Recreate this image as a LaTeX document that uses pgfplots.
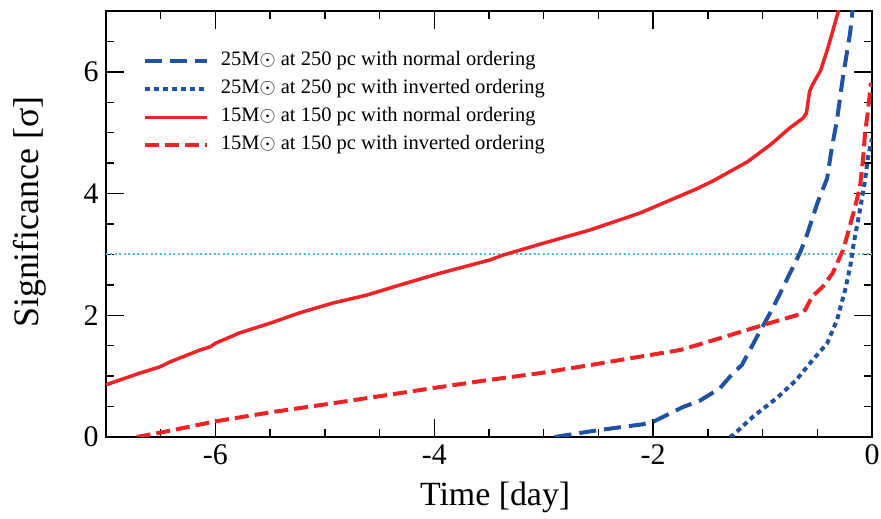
\documentclass[border=0pt]{standalone}
\usepackage{fontspec}
\setmainfont{Liberation Serif}
\newfontfamily\tickfont{Liberation Serif}
\usepackage{pgfplots}
\pgfplotsset{compat=1.18}
\definecolor{cblue}{RGB}{31,82,163}
\definecolor{cred}{RGB}{237,35,38}
\definecolor{ccyan}{RGB}{80,190,210}
\begin{document}
\begin{tikzpicture}
\begin{axis}[
  scale only axis, width=766bp, height=426bp,
  xmin=-7, xmax=0, ymin=0, ymax=7,
  xtick={-6,-4,-2,0}, ytick={0,2,4,6},
  xticklabels={{\tickfont -6},{\tickfont -4},{\tickfont -2},{\tickfont 0}},
  yticklabels={{\tickfont 0},{\tickfont 2},{\tickfont 4},{\tickfont 6}},
  minor xtick={-6.5,-5.5,-5,-4.5,-3.5,-3,-2.5,-1.5,-1,-0.5},
  minor ytick={0.5,1,1.5,2.5,3,3.5,4.5,5,5.5,6.5},
  tick align=inside, ticks=both,
  major tick length=18bp, minor tick length=8bp,
  every tick/.style={black, line width=1.3bp},
  axis line style={line width=2.5bp, black},
  tick label style={font=\tickfont\fontsize{30}{32}\selectfont},
  xticklabel style={yshift=-4bp},
  yticklabel style={xshift=-4bp},
  xlabel={Time [day]}, ylabel={Significance [σ]},
  xlabel style={font=\fontsize{34}{38}\selectfont, at={(axis description cs:0.508,-0.141)}, anchor=center},
  ylabel style={font=\fontsize{36}{40}\selectfont, at={(axis description cs:-0.099,0.528)}, anchor=center},
  legend style={draw=none, fill=none, at={(0.044,0.914)}, anchor=north west,
    font=\fontsize{20.6}{22}\selectfont, row sep=5bp, column sep=10bp,
    nodes={text height=14bp, text depth=5bp, inner sep=2bp}},
  legend cell align=left,
  legend image code/.code={\draw[#1] (0bp,0bp) -- (62bp,0bp);},
  clip=true,
]
\addplot[ccyan, line width=2bp, dash pattern=on 2bp off 2.5bp, forget plot] coordinates {(-7,3) (0,3)};
\addplot[cblue, line width=4bp, dash pattern=on 17bp off 8bp] coordinates {
(-2.90,0) (-2.51,0.11) (-2.09,0.21) (-2.0,0.25) (-1.73,0.49) (-1.57,0.60)
(-1.39,0.80) (-1.27,1.05) (-1.19,1.18) (-1.05,1.65) (-0.90,2.14) (-0.78,2.58)
(-0.66,3.02) (-0.60,3.29) (-0.50,3.84) (-0.41,4.25) (-0.37,4.72) (-0.32,5.21)
(-0.265,5.92) (-0.20,6.64) (-0.18,6.97) (-0.17,7.1)};
\addlegendentry{25M$\odot$ at 250 pc with normal ordering}
\addplot[cblue, line width=4bp, dash pattern=on 5bp off 4bp] coordinates {
(-1.30,0) (-1.27,0.03) (-1.09,0.33) (-0.87,0.64) (-0.69,0.94) (-0.54,1.27)
(-0.41,1.54) (-0.32,1.92) (-0.245,2.42) (-0.20,2.79) (-0.17,3.15) (-0.11,3.73)
(-0.064,4.22) (-0.036,4.6) (-0.01,4.83) (0,4.9)};
\addlegendentry{25M$\odot$ at 250 pc with inverted ordering}
\addplot[cred, line width=3.5bp] coordinates {
(-7.0,0.86) (-6.98,0.87) (-6.69,1.05) (-6.51,1.15) (-6.42,1.23) (-6.14,1.43)
(-6.05,1.48) (-6.0,1.54) (-5.78,1.71) (-5.50,1.87) (-5.23,2.04) (-4.93,2.20)
(-4.62,2.33) (-4.31,2.50) (-3.95,2.69) (-3.49,2.91) (-3.37,2.99) (-3.03,3.17)
(-2.58,3.40) (-2.12,3.68) (-1.755,3.96) (-1.6,4.08) (-1.45,4.21) (-1.3,4.36) (-1.14,4.52)
(-0.93,4.80) (-0.75,5.08) (-0.63,5.24) (-0.60,5.32) (-0.57,5.68) (-0.54,5.80)
(-0.47,6.02) (-0.40,6.41) (-0.31,6.98) (-0.30,7.05)};
\addlegendentry{15M$\odot$ at 150 pc with normal ordering}
\addplot[cred, line width=4bp, dash pattern=on 14bp off 6bp] coordinates {
(-6.72,0) (-6.48,0.08) (-5.99,0.26) (-5.48,0.41) (-4.98,0.54) (-4.50,0.67)
(-3.95,0.82) (-3.49,0.94) (-3.03,1.05) (-2.58,1.18) (-2.12,1.32) (-1.75,1.43)
(-1.45,1.59) (-1.14,1.76) (-0.90,1.89) (-0.69,2.00) (-0.61,2.09) (-0.55,2.30)
(-0.45,2.47) (-0.36,2.69) (-0.265,3.07) (-0.22,3.35) (-0.155,3.78) (-0.11,4.11)
(-0.08,4.6) (-0.064,4.99) (-0.036,5.37) (-0.01,5.82)};
\addlegendentry{15M$\odot$ at 150 pc with inverted ordering}
\end{axis}
\pgfresetboundingbox
\path ([shift={(-106bp,-82bp)}]current axis.south west) rectangle ([shift={(9bp,11bp)}]current axis.north east);
\end{tikzpicture}
\end{document}
